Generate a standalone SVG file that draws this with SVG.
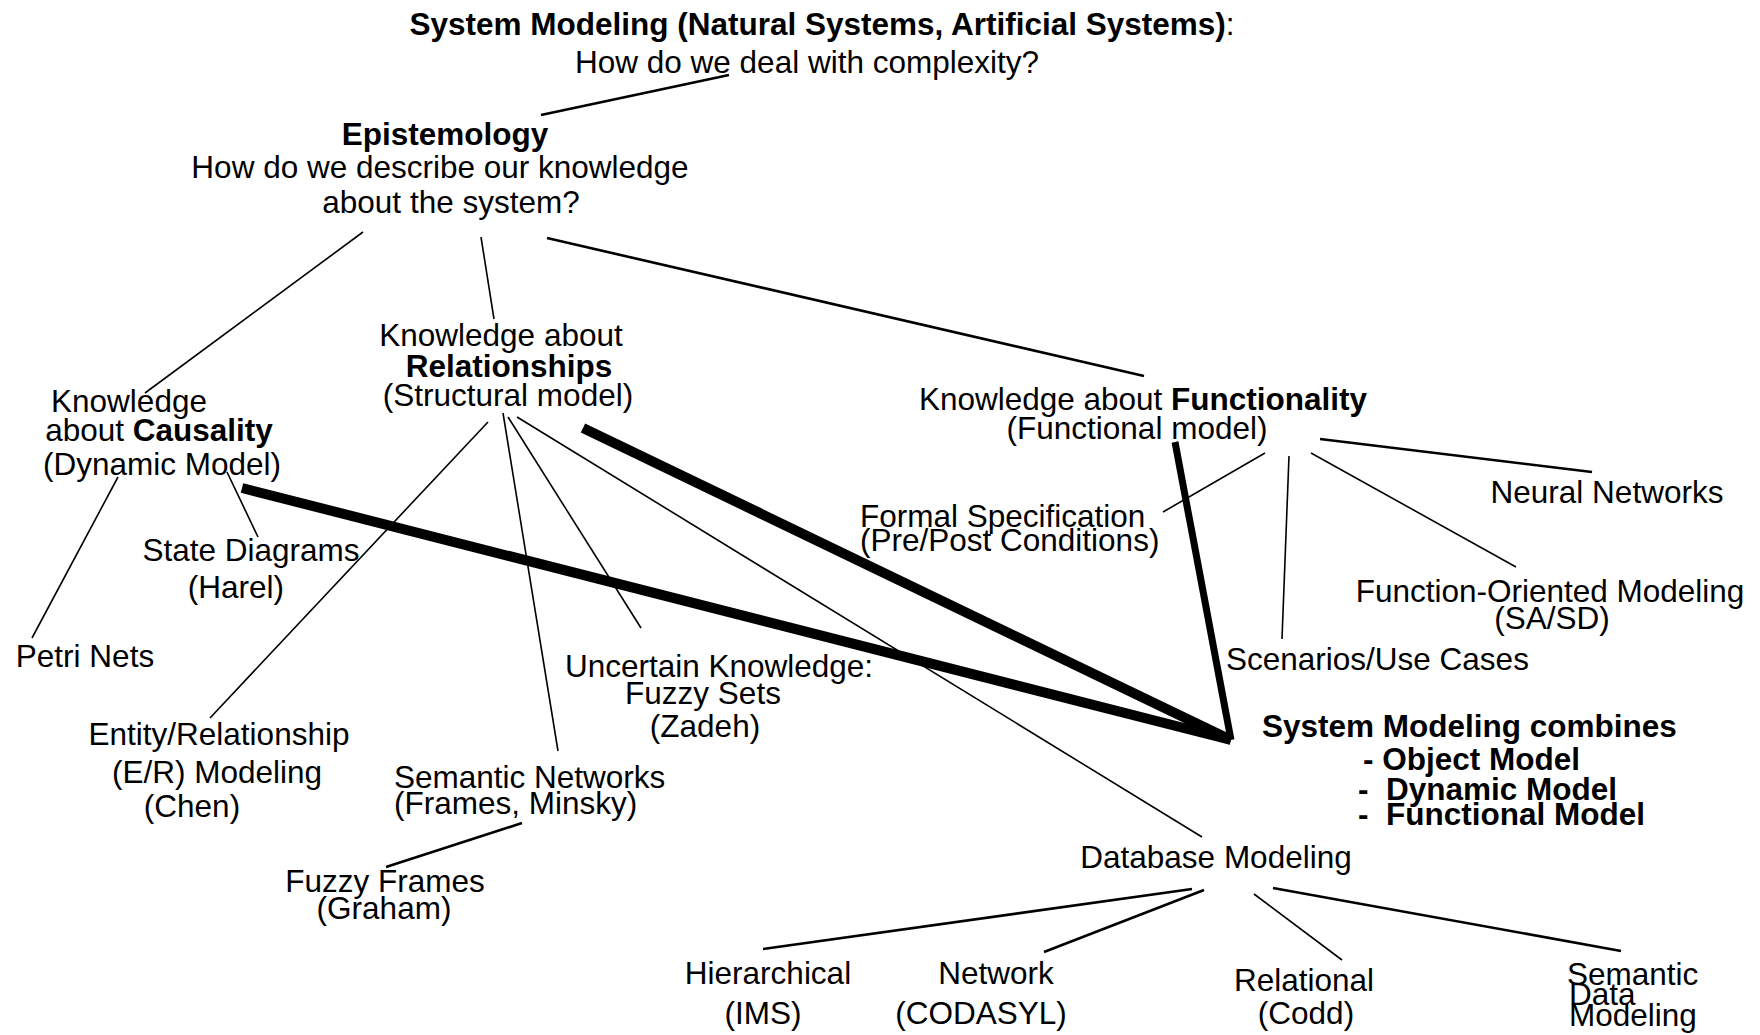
<svg xmlns="http://www.w3.org/2000/svg" width="1760" height="1035" viewBox="0 0 1760 1035">
  <style>
    text { font-family: "Liberation Sans", Arial, Helvetica, sans-serif; font-size: 31.5px; fill: #000; }
    .c { text-anchor: middle; }
    .b { font-weight: bold; }
    line { stroke: #000; fill: none; }
    .thin { stroke-width: 1.6; }
    .med { stroke-width: 2.6; }
    .thick { stroke-width: 10; }
    .heavy { stroke-width: 7; }
  </style>
  <rect width="1760" height="1035" fill="#fff"/>

  <!-- connectors -->
  <g id="connectors">
    <line class="med" x1="541" y1="115" x2="729" y2="75"/>
    <line class="thin" x1="363" y1="232" x2="145" y2="393"/>
    <line class="thin" x1="481" y1="237" x2="494" y2="319"/>
    <line class="med" x1="547" y1="238" x2="1144" y2="376"/>
    <line class="thin" x1="118" y1="477" x2="32" y2="638"/>
    <line class="thin" x1="227" y1="472" x2="258" y2="537"/>
    <line class="thin" x1="488" y1="422" x2="210" y2="718"/>
    <line class="thin" x1="503" y1="413" x2="558" y2="751"/>
    <line class="thin" x1="508" y1="417" x2="641" y2="628"/>
    <line class="thin" x1="517" y1="417" x2="1202" y2="837"/>
    <line class="med" x1="522" y1="823" x2="386" y2="867"/>
    <line class="thin" x1="1265" y1="453" x2="1163" y2="512"/>
    <line class="thin" x1="1289" y1="456" x2="1282" y2="639"/>
    <line class="thin" x1="1311" y1="453" x2="1516" y2="567"/>
    <line class="med" x1="1320" y1="439" x2="1592" y2="472"/>
    <line class="med" x1="1192" y1="889" x2="763" y2="949"/>
    <line class="med" x1="1204" y1="890" x2="1044" y2="952"/>
    <line class="thin" x1="1254" y1="894" x2="1342" y2="960"/>
    <line class="med" x1="1273" y1="888" x2="1621" y2="951"/>
    <!-- heavy links into the combined model -->
    <line class="thick" x1="242" y1="488" x2="1231" y2="740"/>
    <line class="thick" x1="583" y1="428" x2="1231" y2="740"/>
    <line class="heavy" x1="1175" y1="442" x2="1231" y2="740"/>
  </g>

  <g id="title">
    <text class="c" x="822" y="35"><tspan class="b">System Modeling (Natural Systems, Artificial Systems)</tspan>:</text>
    <text class="c" x="807" y="73">How do we deal with complexity?</text>
  </g>

  <g id="epistemology">
    <text class="c b" x="445" y="145">Epistemology</text>
    <text class="c" x="440" y="178">How do we describe our knowledge</text>
    <text class="c" x="451" y="213">about the system?</text>
  </g>

  <g id="causality">
    <text class="c" x="129" y="412">Knowledge</text>
    <text class="c" x="159" y="441">about <tspan class="b">Causality</tspan></text>
    <text class="c" x="162" y="475">(Dynamic Model)</text>
  </g>

  <g id="relationships">
    <text class="c" x="501" y="346">Knowledge about</text>
    <text class="c b" x="509" y="377">Relationships</text>
    <text class="c" x="508" y="406">(Structural model)</text>
  </g>

  <g id="functionality">
    <text class="c" x="1143" y="410">Knowledge about <tspan class="b">Functionality</tspan></text>
    <text class="c" x="1137" y="439">(Functional model)</text>
  </g>

  <g id="state-diagrams">
    <text class="c" x="251" y="561">State Diagrams</text>
    <text class="c" x="236" y="598">(Harel)</text>
  </g>

  <g id="petri-nets">
    <text class="c" x="85" y="667">Petri Nets</text>
  </g>

  <g id="entity-relationship">
    <text class="c" x="219" y="745">Entity/Relationship</text>
    <text class="c" x="217" y="783">(E/R) Modeling</text>
    <text class="c" x="192" y="817">(Chen)</text>
  </g>

  <g id="semantic-networks">
    <text x="394" y="788">Semantic Networks</text>
    <text x="394" y="814">(Frames, Minsky)</text>
  </g>

  <g id="fuzzy-frames">
    <text class="c" x="385" y="892">Fuzzy Frames</text>
    <text class="c" x="384" y="919">(Graham)</text>
  </g>

  <g id="uncertain-knowledge">
    <text class="c" x="719" y="677">Uncertain Knowledge:</text>
    <text class="c" x="703" y="704">Fuzzy Sets</text>
    <text class="c" x="705" y="737">(Zadeh)</text>
  </g>

  <g id="formal-specification">
    <text x="860" y="527">Formal Specification</text>
    <text x="860" y="551">(Pre/Post Conditions)</text>
  </g>

  <g id="neural-networks">
    <text class="c" x="1607" y="503">Neural Networks</text>
  </g>

  <g id="function-oriented">
    <text class="c" x="1550" y="602">Function-Oriented Modeling</text>
    <text class="c" x="1552" y="629">(SA/SD)</text>
  </g>

  <g id="scenarios">
    <text x="1226" y="670">Scenarios/Use Cases</text>
  </g>

  <g id="combined-model">
    <text class="b" x="1262" y="737">System Modeling combines</text>
    <text class="b" x="1363" y="770" xml:space="preserve">- Object Model</text>
    <text class="b" x="1358" y="800" xml:space="preserve">-  Dynamic Model</text>
    <text class="b" x="1358" y="825" xml:space="preserve">-  Functional Model</text>
  </g>

  <g id="database-modeling">
    <text class="c" x="1216" y="868">Database Modeling</text>
  </g>

  <g id="hierarchical">
    <text class="c" x="768" y="984">Hierarchical</text>
    <text class="c" x="763" y="1024">(IMS)</text>
  </g>

  <g id="network">
    <text class="c" x="996" y="984">Network</text>
    <text class="c" x="981" y="1024">(CODASYL)</text>
  </g>

  <g id="relational">
    <text class="c" x="1304" y="991">Relational</text>
    <text class="c" x="1306" y="1024">(Codd)</text>
  </g>

  <g id="semantic-data">
    <text x="1567" y="985">Semantic</text>
    <text x="1569" y="1005">Data</text>
    <text x="1569" y="1026">Modeling</text>
  </g>
</svg>
